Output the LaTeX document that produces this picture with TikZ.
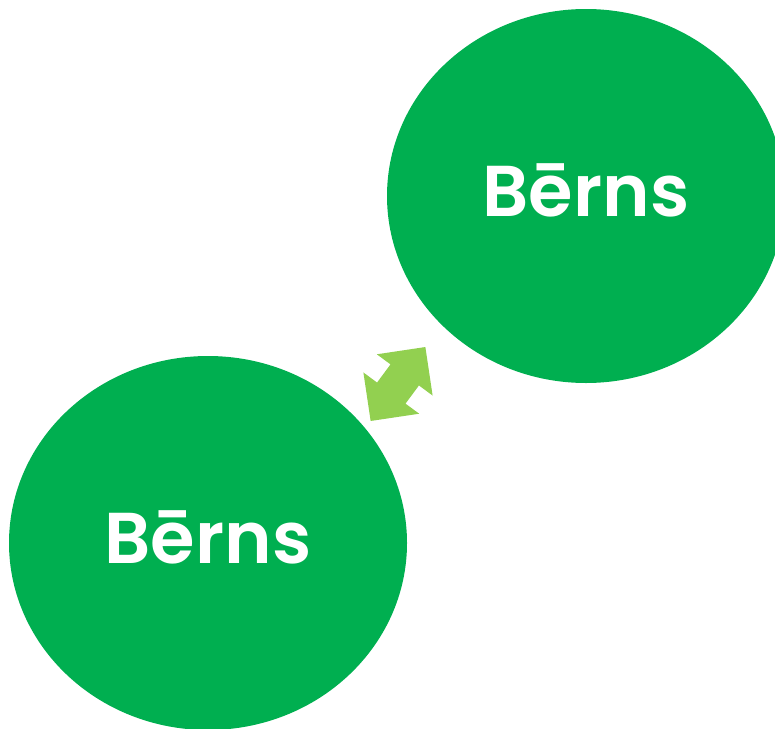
\documentclass[tikz,border=0pt]{standalone}
\usepackage{fontspec}
\setmainfont{Poppins}[BoldFont={* SemiBold}]
\usetikzlibrary{shapes.geometric}
\usetikzlibrary{shapes.arrows}
\definecolor{childgreen}{HTML}{00AF50}
\definecolor{linkgreen}{HTML}{92D050}
\tikzset{
	berns node/.style={ellipse,fill=childgreen,inner sep=0pt,
		minimum width=398pt,minimum height=374pt},
	berns text/.style={text=white,inner sep=0pt,font=\fontsize{72}{80}\selectfont\bfseries},
	link arrow/.style={double arrow,fill=linkgreen,inner xsep=0pt,inner ysep=17.5pt,
		minimum width=69pt,minimum height=92pt,
		double arrow head extend=17pt,double arrow tip angle=90,rotate=53.5}
}
\begin{document}
\begin{tikzpicture}[x=1pt,y=-1pt]
	\useasboundingbox (0,0) rectangle (775,728);
	\clip (0,0) rectangle (775,728);
	\node [berns node] (1) at (586,196) {};
	\node [berns node] (2) at (208,543) {};
	\node [berns text] (1t) at ([yshift=6pt]1.center) {Bērns};
	\node [berns text] (2t) at ([yshift=6pt]2.center) {Bērns};
	\node [link arrow] (3) at (398,384) {};
\end{tikzpicture}
\end{document}
